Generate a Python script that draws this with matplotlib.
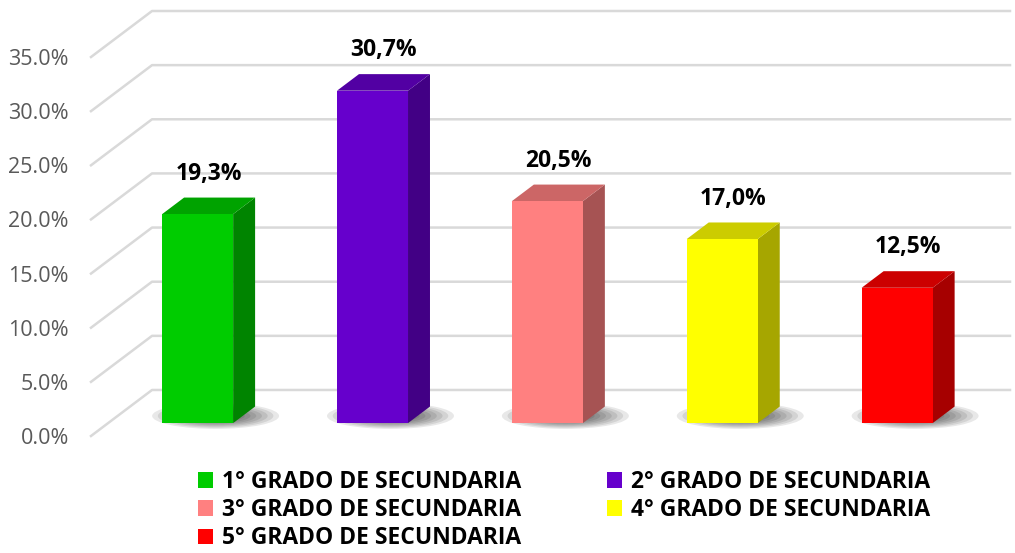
import numpy as np
import matplotlib
matplotlib.use("Agg")
import matplotlib.pyplot as plt
from matplotlib.patches import Polygon, Rectangle, Ellipse

plt.rcParams['font.family'] = ['Open Sans', 'DejaVu Sans']

categories = ["1° GRADO DE SECUNDARIA", "2° GRADO DE SECUNDARIA",
              "3° GRADO DE SECUNDARIA", "4° GRADO DE SECUNDARIA",
              "5° GRADO DE SECUNDARIA"]
values = [19.3, 30.7, 20.5, 17.0, 12.5]
labels = ["19,3%", "30,7%", "20,5%", "17,0%", "12,5%"]
front_colors = ["#00CC00", "#6600CC", "#FF8080", "#FFFF00", "#FF0000"]
side_colors = ["#008400", "#420085", "#A65353", "#A6A600", "#A60000"]
top_colors = ["#00A300", "#5200A3", "#CC6666", "#CCCC00", "#CC0000"]
yticks = [0, 5, 10, 15, 20, 25, 30, 35]

# 3D look: depth offset of the whole floor (x in categories, y in %)
DX, DY = 0.349, 4.25
d_front, d_back = 0.28, 0.64
bar_w = 0.406

fig = plt.figure(figsize=(10.15, 5.53), dpi=100)
ax = fig.add_axes([91 / 1015, (553 - 436) / 553, (1010 - 91) / 1015, 425 / 553])
ax.set_xlim(-0.512, 4.743)
ax.set_ylim(0, 35 + DY)
for s in ax.spines.values():
    s.set_visible(False)
ax.set_xticks([])
ax.set_yticks(yticks)
ax.set_yticklabels([f"{t:.1f}%" for t in yticks])
ax.tick_params(axis='y', length=0, pad=16, labelsize=15.5, labelcolor="#595959")

# gridlines: diagonal on left wall, horizontal on back wall
x_left, x_right = -0.512, 4.743
for t in yticks:
    ax.plot([x_left, x_left + DX, x_right], [t, t + DY, t + DY],
            color="#D9D9D9", lw=1.8, zorder=1, clip_on=False)

for i, v in enumerate(values):
    fx = i + d_front * DX - bar_w / 2
    fy = d_front * DY
    ox = (d_back - d_front) * DX
    oy = (d_back - d_front) * DY
    # shadow on the floor
    cx = i + (d_front + d_back) / 2 * DX
    cy = (d_front + d_back) / 2 * DY
    for k in range(8):
        sc = 1 - k * 0.09
        ax.add_patch(Ellipse((cx + 0.04, cy - 0.1), (bar_w + 0.32) * sc, 2.4 * sc,
                             color="black", alpha=0.09, lw=0, zorder=2))
    # side face
    ax.add_patch(Polygon([(fx + bar_w, fy), (fx + bar_w + ox, fy + oy),
                          (fx + bar_w + ox, fy + oy + v), (fx + bar_w, fy + v)],
                         closed=True, fc=side_colors[i], ec="none", zorder=3))
    # top face
    ax.add_patch(Polygon([(fx, fy + v), (fx + ox, fy + oy + v),
                          (fx + bar_w + ox, fy + oy + v), (fx + bar_w, fy + v)],
                         closed=True, fc=top_colors[i], ec="none", zorder=3))
    # front face
    ax.add_patch(Rectangle((fx, fy), bar_w, v, fc=front_colors[i], ec="none",
                           zorder=4, label=categories[i]))
    ax.text(i + (d_front + d_back) / 2 * DX, fy + oy + v + 1.1, labels[i],
            ha="center", va="bottom", fontsize=16.5, fontweight="bold",
            color="black", zorder=5)

handles, lbls = ax.get_legend_handles_labels()
order = [0, 2, 4, 1, 3]
leg = fig.legend([handles[k] for k in order], [lbls[k] for k in order],
                 loc="upper left", bbox_to_anchor=(198 / 1015, 1 - 470 / 553),
                 ncol=2, frameon=False, handlelength=0.65, handleheight=0.65,
                 handletextpad=0.4, columnspacing=3.75, labelspacing=0.18,
                 borderpad=0, borderaxespad=0,
                 prop={"family": "Open Sans", "weight": "bold", "size": 16.5})

fig.savefig("out.png", dpi=100)
